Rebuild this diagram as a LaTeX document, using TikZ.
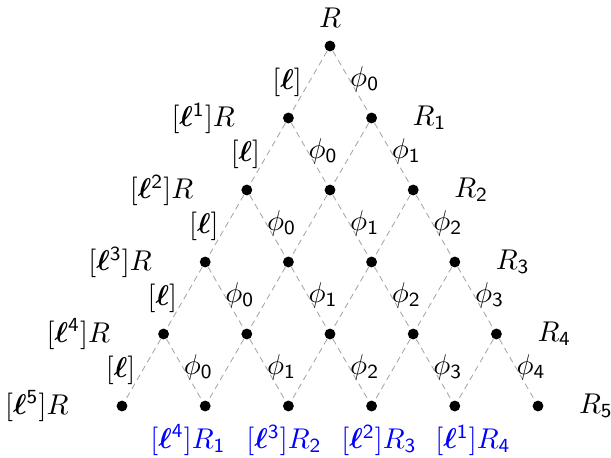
\documentclass[tikz,border=0pt]{standalone}
\usepackage{amsmath}
\usepackage{bm}
\usetikzlibrary{calc}
\newcommand\sd[1]{\text{\sffamily #1}}
\newcommand\bl{\bm{\ell}}
\begin{document}
\begin{tikzpicture}[x=0.35pt,y=-0.35pt,
  dotnode/.style={circle,fill=black,inner sep=0pt,minimum size=3.8pt},
  edgeline/.style={draw=gray!70,dashed,dash pattern=on 2.1pt off 1.5pt,line width=0.3pt},
  lab/.style={inner sep=1pt},
  bluelab/.style={text=blue,inner sep=0pt}]
\useasboundingbox (0,0) rectangle (611,458);
% dots
\foreach \r in {0,...,5}{
  \foreach \k in {0,...,\r}{
    \node[dotnode] (d\r-\k) at ({330+(2*\k-\r)*41.6},{46+72*\r}) {};
  }
}
% edges
\foreach \r/\n in {0/1,1/2,2/3,3/4,4/5}{
  \foreach \k in {0,...,\r}{
    \pgfmathtruncatemacro\kk{\k+1}
    \draw[edgeline] (d\r-\k) -- (d\n-\k);
    \draw[edgeline] (d\r-\k) -- (d\n-\kk);
  }
}
% [l] labels on left boundary
\foreach \r/\n in {0/1,1/2,2/3,3/4,4/5}{
  \node[lab,anchor=east] (ll\r) at ($(d\r-0)!0.5!(d\n-0)+(-4,0)$) {$[\bl]$};
}
% phi labels
\foreach \r/\n in {0/1,1/2,2/3,3/4,4/5}{
  \foreach \k in {0,...,\r}{
    \pgfmathtruncatemacro\kk{\k+1}
    \node[lab,anchor=west] (p\r-\k) at ($(d\r-\k)!0.5!(d\n-\kk)+(-4,-3)$) {$\phi_{\sd{\k}}$};
  }
}
% top label
\node[lab] (top) at (330,18) {$R$};
% left labels
\foreach \r in {1,...,5}{
  \node[lab] (L\r) at ({330-(\r+2)*41.6-2},{46+72*\r}) {$[\bl^{\sd{\r}}]R$};
}
% right labels
\foreach \r in {1,...,5}{
  \node[lab] (Rr\r) at ({330+\r*41.6+58},{46+72*\r}) {$R_{\sd{\r}}$};
}
% bottom blue labels
\node[bluelab] (b1) at (188,440) {$[\bl^{\sd{4}}]R_{\sd{1}}$};
\node[bluelab] (b2) at (284,440) {$[\bl^{\sd{3}}]R_{\sd{2}}$};
\node[bluelab] (b3) at (379,440) {$[\bl^{\sd{2}}]R_{\sd{3}}$};
\node[bluelab] (b4) at (473,440) {$[\bl^{\sd{1}}]R_{\sd{4}}$};
\end{tikzpicture}
\end{document}
